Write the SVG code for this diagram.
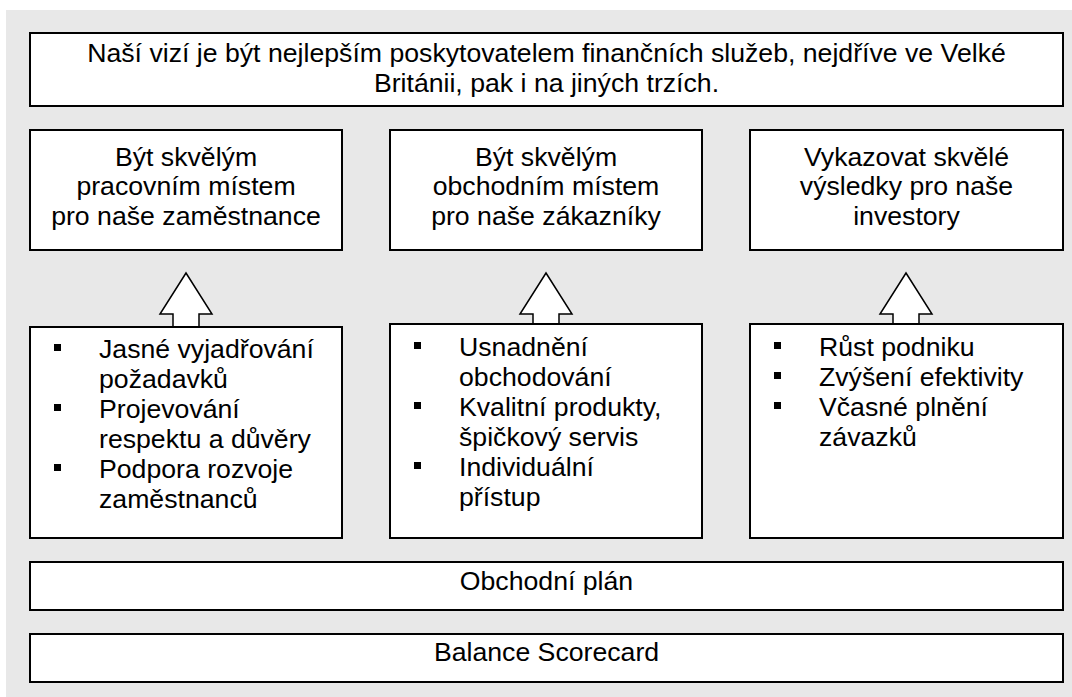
<svg xmlns="http://www.w3.org/2000/svg" width="1072" height="697" viewBox="0 0 1072 697">
<style>
.box{fill:#ffffff;stroke:#000000;stroke-width:2}
.arrow{fill:#ffffff;stroke:#000000;stroke-width:1.5;stroke-linejoin:miter}
text{font-family:"Liberation Sans",Arial,sans-serif;font-size:26.67px;fill:#000000}
.c{text-anchor:middle}
.b{fill:#000000}
</style>
<rect x="6" y="10" width="1066" height="687" fill="#e8e8e8"/>
<g id="vision">
<rect class="box" x="30" y="33" width="1033" height="73"/>
<text class="c" x="546.5" y="62">Naší vizí je být nejlepším poskytovatelem finančních služeb, nejdříve ve Velké</text>
<text class="c" x="546.5" y="92">Británii, pak i na jiných trzích.</text>
</g>
<g id="goal1">
<rect class="box" x="30" y="130" width="312" height="120"/>
<text class="c" x="186" y="166">Být skvělým</text>
<text class="c" x="186" y="195">pracovním místem</text>
<text class="c" x="186" y="225">pro naše zaměstnance</text>
</g>
<g id="goal2">
<rect class="box" x="390" y="130" width="312" height="120"/>
<text class="c" x="546" y="166">Být skvělým</text>
<text class="c" x="546" y="195">obchodním místem</text>
<text class="c" x="546" y="225">pro naše zákazníky</text>
</g>
<g id="goal3">
<rect class="box" x="750" y="130" width="313" height="120"/>
<text class="c" x="906.5" y="166">Vykazovat skvělé</text>
<text class="c" x="906.5" y="195">výsledky pro naše</text>
<text class="c" x="906.5" y="225">investory</text>
</g>
<g id="connectors">
<polygon class="arrow" points="186,273 212,314 199,314 199,327 173,327 173,314 160,314"/>
<polygon class="arrow" points="546,273 572,314 559,314 559,324 533,324 533,314 520,314"/>
<polygon class="arrow" points="906,273 932,314 919,314 919,324 893,324 893,314 880,314"/>
</g>
<g id="list1">
<rect class="box" x="30" y="327" width="312" height="211"/>
<rect class="b" x="54" y="344" width="7" height="7"/>
<rect class="b" x="54" y="404" width="7" height="7"/>
<rect class="b" x="54" y="464" width="7" height="7"/>
<text x="99" y="358">Jasné vyjadřování</text>
<text x="99" y="388">požadavků</text>
<text x="99" y="418">Projevování</text>
<text x="99" y="448">respektu a důvěry</text>
<text x="99" y="478">Podpora rozvoje</text>
<text x="99" y="508">zaměstnanců</text>
</g>
<g id="list2">
<rect class="box" x="390" y="324" width="312" height="214"/>
<rect class="b" x="414" y="342" width="7" height="7"/>
<rect class="b" x="414" y="402" width="7" height="7"/>
<rect class="b" x="414" y="462" width="7" height="7"/>
<text x="459" y="356">Usnadnění</text>
<text x="459" y="386">obchodování</text>
<text x="459" y="416">Kvalitní produkty,</text>
<text x="459" y="446">špičkový servis</text>
<text x="459" y="476">Individuální</text>
<text x="459" y="506">přístup</text>
</g>
<g id="list3">
<rect class="box" x="750" y="324" width="313" height="214"/>
<rect class="b" x="774" y="342" width="7" height="7"/>
<rect class="b" x="774" y="372" width="7" height="7"/>
<rect class="b" x="774" y="402" width="7" height="7"/>
<text x="819" y="356">Růst podniku</text>
<text x="819" y="386">Zvýšení efektivity</text>
<text x="819" y="416">Včasné plnění</text>
<text x="819" y="446">závazků</text>
</g>
<g id="plan">
<rect class="box" x="30" y="562" width="1033" height="48"/>
<text class="c" x="546.5" y="590">Obchodní plán</text>
</g>
<g id="scorecard">
<rect class="box" x="30" y="634" width="1033" height="48"/>
<text class="c" x="546.5" y="661">Balance Scorecard</text>
</g>
</svg>
